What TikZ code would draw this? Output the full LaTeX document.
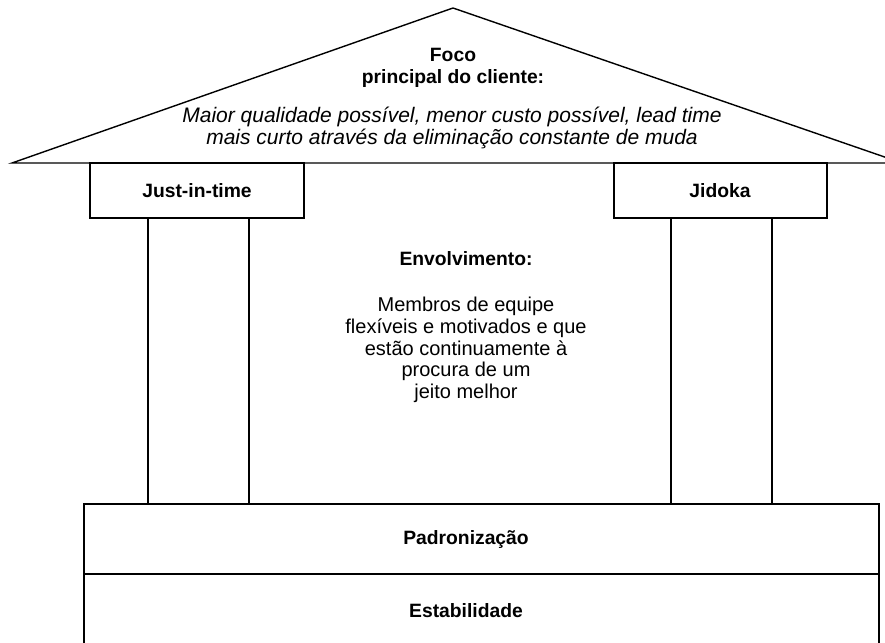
\documentclass[tikz,border=0pt]{standalone}
\usepackage{fontspec}
\setmainfont{Liberation Sans}
\begin{document}
\begin{tikzpicture}[x=1pt,y=-1pt,line width=1.4pt,
  every node/.style={inner sep=0pt,align=center},
  bold/.style={font=\fontsize{19.3}{22}\selectfont\bfseries},
  plain/.style={font=\fontsize{20}{21.7}\selectfont},
  ital/.style={font=\fontsize{21}{22.5}\selectfont\itshape}]
\useasboundingbox (0,0) rectangle (885,642);
\clip (0,0) rectangle (885,642);
% roof
\coordinate (apex) at (453,8);
\coordinate (rl) at (12,163);
\coordinate (rr) at (902,163);
\draw[line join=miter] (rl) -- (apex) -- (rr) -- cycle;
\node[bold] (foco) at (453,68) {Foco\\principal do cliente:};
\node[ital] (maior) at (452,128) {Maior qualidade possível, menor custo possível, lead time\\mais curto através da eliminação constante de muda};
% capitals
\draw (90,163) rectangle (304,218);
\node[bold] (jit) at (197,191) {Just-in-time};
\draw (614,163) rectangle (827,218);
\node[bold] (jid) at (720,191) {Jidoka};
% columns
\draw (148,218) -- (148,504);
\draw (249,218) -- (249,504);
\draw (671,218) -- (671,504);
\draw (772,218) -- (772,504);
% center text
\node[bold] (env) at (466,259) {Envolvimento:};
\node[plain] (memb) at (466,350) {Membros de equipe\\flexíveis e motivados e que\\estão continuamente à\\procura de um\\jeito melhor};
% base
\draw (84,650) -- (84,504) -- (879,504) -- (879,650);
\draw (84,574) -- (879,574);
\node[bold] (pad) at (466,540) {Padronização};
\node[bold] (est) at (466,611) {Estabilidade};
\end{tikzpicture}
\end{document}
